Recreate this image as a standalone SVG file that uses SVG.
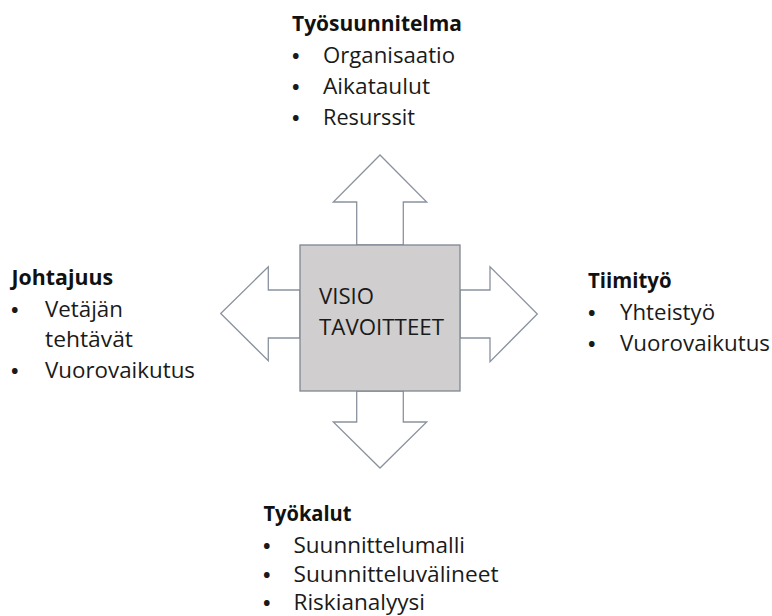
<svg xmlns="http://www.w3.org/2000/svg" width="772" height="616" viewBox="0 0 772 616">
<style>
  .arrow { fill: #ffffff; stroke: #8a929e; stroke-width: 1.3; stroke-linejoin: miter; }
  .box { fill: #d0cece; stroke: #7f8793; stroke-width: 1.3; }
  .t { font-family: "Open Sans", "Liberation Sans", sans-serif; font-size: 21px; fill: #1a1a1a; }
  .b { font-family: "Open Sans", "Liberation Sans", sans-serif; font-size: 20px; font-weight: bold; fill: #1a1a1a; }
  .h { font-family: "Open Sans", "Liberation Sans", sans-serif; font-size: 21px; font-weight: bold; fill: #111111; }
  .c { font-family: "Open Sans", "Liberation Sans", sans-serif; font-size: 21.5px; fill: #1a1a1a; }
</style>
<rect width="772" height="616" fill="#ffffff"/>
<g id="connectors">
  <polygon class="arrow" points="356.7,245 356.7,202 333.3,202 380,155 426.7,202 403.3,202 403.3,245"/>
  <polygon class="arrow" points="356.7,391 356.7,422 333.3,422 380,468 426.7,422 403.3,422 403.3,391"/>
  <polygon class="arrow" points="460,290 490,290 490,266.7 537.3,314 490,361.7 490,338 460,338"/>
  <polygon class="arrow" points="300,290 268.3,290 268.3,266.7 220.7,313.5 268.3,360.7 268.3,338 300,338"/>
</g>
<g id="center">
  <rect class="box" x="300" y="245" width="160" height="146"/>
  <text class="c" x="319" y="304" textLength="55" lengthAdjust="spacingAndGlyphs">VISIO</text>
  <text class="c" x="319" y="335" textLength="125" lengthAdjust="spacingAndGlyphs">TAVOITTEET</text>
</g>
<g id="tyosuunnitelma">
  <text class="h" x="292" y="31" textLength="170" lengthAdjust="spacingAndGlyphs">Työsuunnitelma</text>
  <text class="b" x="292" y="63">•</text>
  <text class="t" x="323" y="63" textLength="132" lengthAdjust="spacingAndGlyphs">Organisaatio</text>
  <text class="b" x="292" y="94">•</text>
  <text class="t" x="323" y="94" textLength="107" lengthAdjust="spacingAndGlyphs">Aikataulut</text>
  <text class="b" x="292" y="125">•</text>
  <text class="t" x="323" y="125" textLength="92" lengthAdjust="spacingAndGlyphs">Resurssit</text>
</g>
<g id="johtajuus">
  <text class="h" x="11.5" y="285" textLength="101.5" lengthAdjust="spacingAndGlyphs">Johtajuus</text>
  <text class="b" x="11" y="317">•</text>
  <text class="t" x="45" y="317" textLength="78" lengthAdjust="spacingAndGlyphs">Vetäjän</text>
  <text class="t" x="45" y="347" textLength="88" lengthAdjust="spacingAndGlyphs">tehtävät</text>
  <text class="b" x="11" y="378">•</text>
  <text class="t" x="45" y="378" textLength="150" lengthAdjust="spacingAndGlyphs">Vuorovaikutus</text>
</g>
<g id="tiimityo">
  <text class="h" x="588" y="288" textLength="83.5" lengthAdjust="spacingAndGlyphs">Tiimityö</text>
  <text class="b" x="588" y="320">•</text>
  <text class="t" x="620" y="320" textLength="95" lengthAdjust="spacingAndGlyphs">Yhteistyö</text>
  <text class="b" x="588" y="351">•</text>
  <text class="t" x="620" y="351" textLength="150" lengthAdjust="spacingAndGlyphs">Vuorovaikutus</text>
</g>
<g id="tyokalut">
  <text class="h" x="263.5" y="521" textLength="88" lengthAdjust="spacingAndGlyphs">Työkalut</text>
  <text class="b" x="263" y="553">•</text>
  <text class="t" x="293.5" y="553" textLength="171.5" lengthAdjust="spacingAndGlyphs">Suunnittelumalli</text>
  <text class="b" x="263" y="582">•</text>
  <text class="t" x="293.5" y="582" textLength="205" lengthAdjust="spacingAndGlyphs">Suunnitteluvälineet</text>
  <text class="b" x="263" y="610">•</text>
  <text class="t" x="293.5" y="610" textLength="131.5" lengthAdjust="spacingAndGlyphs">Riskianalyysi</text>
</g>
</svg>
